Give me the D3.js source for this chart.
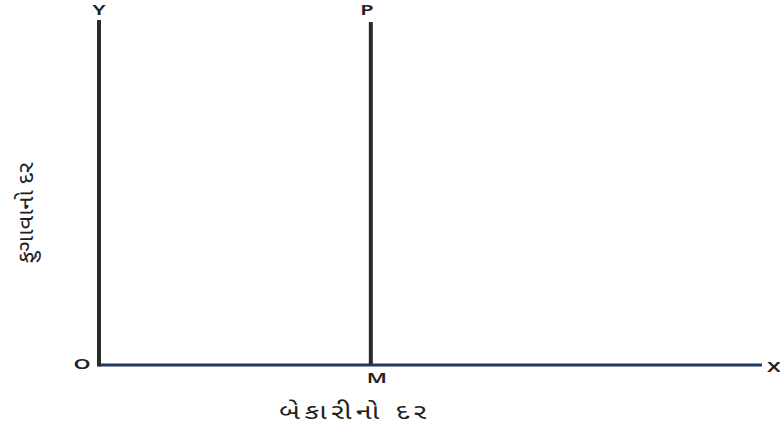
<!DOCTYPE html>
<html>
<head>
<meta charset="utf-8">
<script src="https://cdn.jsdelivr.net/npm/d3@7"></script>
<style>
  body { margin: 0; background: #fff; }
  text { font-family: "Noto Sans", "Noto Sans Gujarati", sans-serif; }
</style>
</head>
<body>
<svg id="chart"></svg>
<script>
// axis titles (Gujarati)
const xTitle = ["બેકારીનો દર"];
const yTitle = ["ફુગાવાનો દર"];
// axis end labels
const axisLabels = ["O", "X", "Y"];
// vertical long-run curve at natural rate of unemployment
const curveNames = ["P"];
const curveFootNames = ["M"];
const curveX = [41];
const curveTop = [99.4];

const width = 780, height = 429;
const svg = d3.select("#chart").attr("width", width).attr("height", height);

const x = d3.scaleLinear().domain([0, 100]).range([99, 762]);
const y = d3.scaleLinear().domain([0, 100]).range([365, 20]);

// x axis
svg.append("line")
  .attr("x1", x(0)).attr("x2", x(100))
  .attr("y1", y(0)).attr("y2", y(0))
  .attr("stroke", "#1f3864").attr("stroke-width", 3);

// y axis
svg.append("line")
  .attr("x1", x(0)).attr("x2", x(0))
  .attr("y1", y(0) + 1.5).attr("y2", y(100))
  .attr("stroke", "#2b2b2b").attr("stroke-width", 4);

// labels look horizontally stretched in the original
function label(tx, ty, s) {
  svg.append("text")
    .attr("transform", `translate(${tx},${ty}) scale(1.45,1)`)
    .attr("text-anchor", "middle")
    .attr("font-size", 15).attr("font-weight", 600).attr("fill", "#222")
    .text(s);
}

// vertical curve
curveX.forEach((v, i) => {
  svg.append("line")
    .attr("x1", x(v)).attr("x2", x(v))
    .attr("y1", y(0) - 1).attr("y2", y(curveTop[i]))
    .attr("stroke", "#2b2b2b").attr("stroke-width", 4);
  label(x(v) - 4, 15, curveNames[i]);
  label(x(v) + 6, 383, curveFootNames[i]);
});

// axis end labels
label(82, 369, axisLabels[0]);
label(774, 372, axisLabels[1]);
label(x(0), 15, axisLabels[2]);

// axis titles
svg.append("text")
  .attr("transform", "translate(355,419) scale(1.3,1)")
  .attr("text-anchor", "middle").attr("font-size", 22)
  .attr("fill", "#222").attr("letter-spacing", 3.5)
  .text(xTitle[0]);

svg.append("text")
  .attr("transform", "translate(33,213) rotate(-90) scale(1.08,1)")
  .attr("text-anchor", "middle").attr("font-size", 22)
  .attr("fill", "#222")
  .text(yTitle[0]);
</script>
</body>
</html>
